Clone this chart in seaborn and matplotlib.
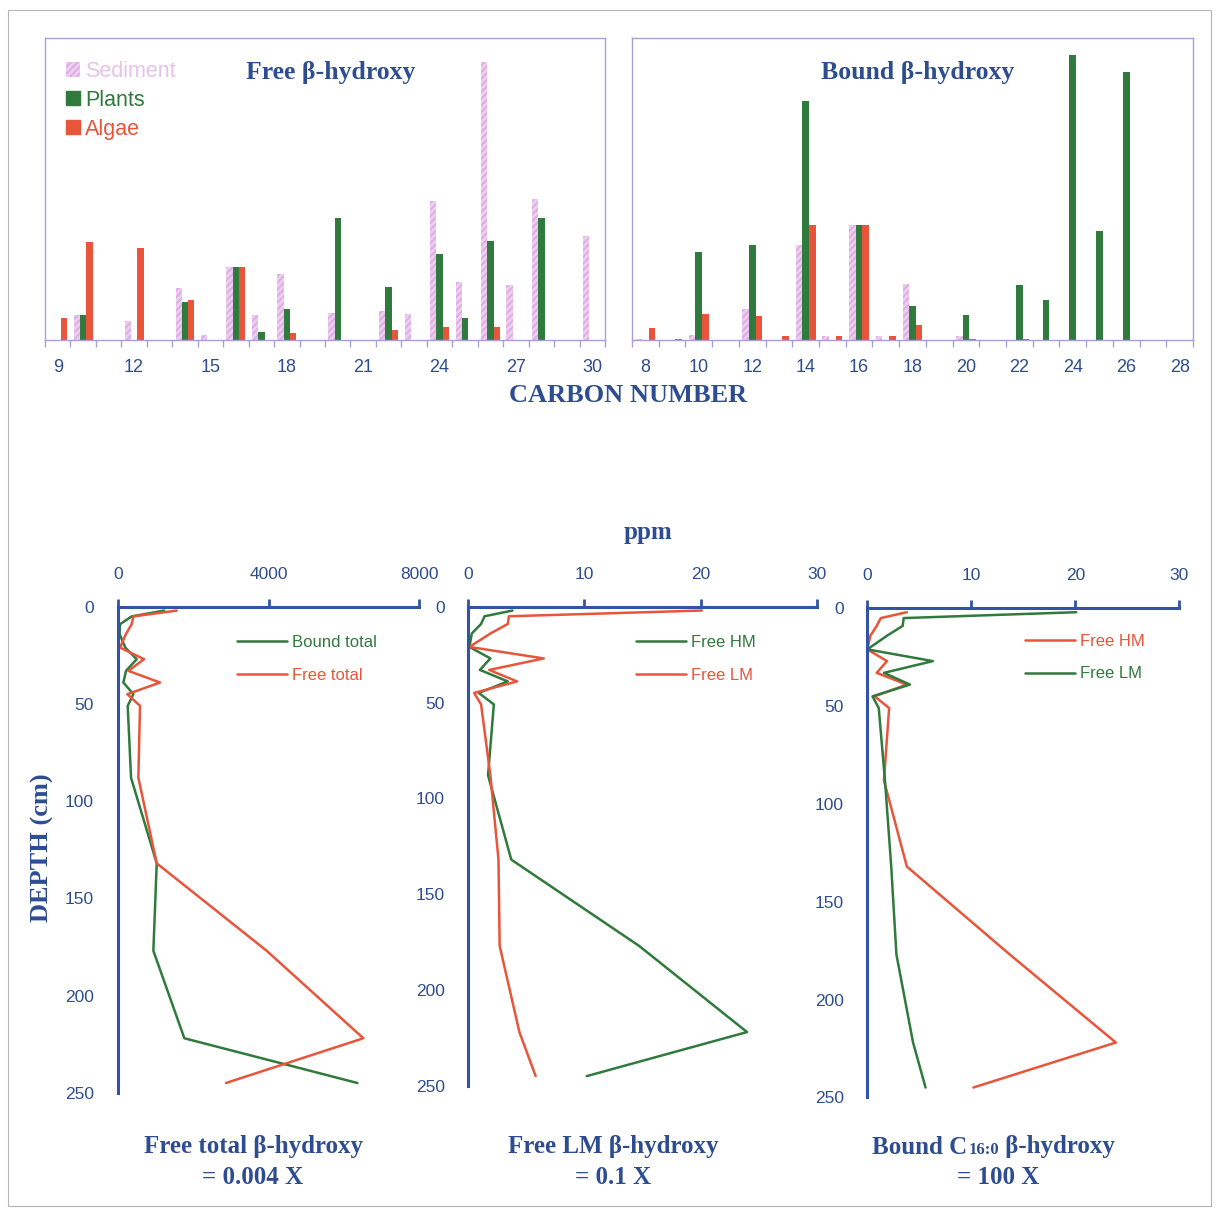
import numpy as np
import pandas as pd
import matplotlib
matplotlib.use("Agg")
import matplotlib.pyplot as plt
import matplotlib.patches as mpatches
import seaborn as sns

# bar heights (relative units, axes top = 100)
free_carbon = list(range(9, 31))
free_sediment = [0, 8.4, 0, 6.4, 0, 17.2, 1.8, 24.3, 8.4, 22.0, 0, 9.1, 0, 9.6, 8.7, 46.1, 19.2, 92.2, 18.3, 46.6, 0, 34.6]
free_plants = [0, 8.4, 0, 0, 0, 12.7, 0, 24.3, 2.8, 10.2, 0, 40.5, 0, 17.4, 0, 28.5, 7.3, 32.8, 0, 40.3, 0, 0]
free_algae = [7.3, 32.4, 0, 30.5, 0, 13.3, 0, 24.3, 0, 2.2, 0, 0, 0, 3.3, 0, 4.4, 0, 4.4, 0, 0, 0, 0]

bound_carbon = list(range(8, 29))
bound_sediment = [0.3, 0, 1.8, 0, 10.2, 0, 31.3, 1.4, 38.0, 1.4, 18.4, 0, 1.4, 0, 0, 0, 0, 0, 0, 0, 0]
bound_plants = [0, 0, 29.2, 0, 31.6, 0, 79.0, 0, 38.0, 0, 11.1, 0, 8.4, 0, 18.1, 13.4, 94.5, 36.1, 88.6, 0, 0]
bound_algae = [3.9, 0.3, 8.5, 0, 7.8, 1.3, 38.0, 1.4, 38.0, 1.4, 5.1, 0, 0.3, 0, 0.3, 0, 0, 0, 0, 0, 0]

# depth profiles
depth = [2, 5, 9, 14, 21, 27, 33, 39, 45, 51, 88, 132, 177, 222, 245]
bound_total = [1229, 371, 62, 50, 200, 504, 221, 150, 416, 265, 354, 1035, 946, 1768, 6357]
free_total = [1565, 416, 371, 220, 62, 699, 283, 1123, 256, 592, 548, 1035, 3952, 6516, 2873]
p2_free_hm = [3.8, 1.4, 1.1, 0.3, 0.1, 1.9, 1.0, 3.4, 0.9, 2.2, 1.7, 3.7, 14.7, 24.0, 10.2]
p2_free_lm = [20.1, 3.5, 3.4, 1.9, 0.1, 6.5, 1.8, 4.2, 0.5, 1.1, 1.9, 2.6, 2.7, 4.4, 5.8]
p3_free_hm = [3.8, 1.3, 0.9, 0.3, 0.0, 1.9, 0.9, 3.8, 0.7, 2.1, 1.6, 3.8, 13.7, 23.9, 10.2]
p3_free_lm = [20.1, 3.5, 3.4, 1.9, 0.0, 6.3, 1.6, 4.1, 0.5, 1.1, 1.7, 2.3, 2.8, 4.4, 5.6]

sources = ["Sediment", "Plants", "Algae"]

sns.set_theme(style="white")
plt.rcParams["font.family"] = ["Liberation Sans", "DejaVu Sans"]
plt.rcParams["hatch.linewidth"] = 1.4

BLUE = "#2e4d91"
AXBLUE = "#3253a6"
FRAME = "#a99fd6"
GREEN = "#2f7a3c"
RED = "#e8553a"
PINK = "#efcdf0"
PINK_HATCH = "#dcaee2"
SERIF = ["Liberation Serif", "DejaVu Serif"]

W, H = 1219, 1211
fig = plt.figure(figsize=(W / 100, H / 100), dpi=100)


def px_rect(x0, y0, x1, y1):
    return [x0 / W, 1 - y1 / H, (x1 - x0) / W, (y1 - y0) / H]


def bar_panel(rect, carbon, sed, plants, algae, title, step):
    ax = fig.add_axes(rect)
    n = len(carbon)
    df = pd.DataFrame({
        "carbon": carbon * 3,
        "value": sed + plants + algae,
        "source": [s for s in sources for _ in range(n)],
    })
    sns.barplot(data=df, x="carbon", y="value", hue="source", order=carbon,
                hue_order=sources, palette=[PINK, GREEN, RED], width=0.74,
                saturation=1, linewidth=0, legend=False, ax=ax)
    for bar in ax.containers[0]:
        bar.set_hatch("/////")
        bar.set_edgecolor(PINK_HATCH)
        bar.set_linewidth(0)
    ax.set_xlim(-0.5, n - 0.5)
    ax.set_ylim(0, 100)
    ax.set_xlabel("")
    ax.set_ylabel("")
    ax.set_yticks([])
    ax.set_xticks(range(0, n, step))
    ax.set_xticklabels([str(c) for c in carbon[::step]])
    ax.set_xticks(np.arange(-0.5, n, 1), minor=True)
    ax.tick_params(axis="x", which="major", length=0, pad=14, labelsize=13, labelcolor=BLUE)
    ax.tick_params(axis="x", which="minor", length=5, width=1, color=FRAME, direction="out", bottom=True)
    for sp in ax.spines.values():
        sp.set_color(FRAME)
        sp.set_linewidth(1)
    ax.text(0.51, 0.885, title, transform=ax.transAxes, ha="center", va="center",
            family=SERIF, fontweight="bold", fontsize=18.5, color=BLUE)
    return ax


ax1 = bar_panel(px_rect(45, 38, 605, 340), free_carbon, free_sediment, free_plants,
                free_algae, "Free β-hydroxy", 3)
ax2 = bar_panel(px_rect(632, 38, 1193, 340), bound_carbon, bound_sediment, bound_plants,
                bound_algae, "Bound β-hydroxy", 2)

handles = [mpatches.Patch(facecolor=PINK, edgecolor=PINK_HATCH, hatch="/////", linewidth=0),
           mpatches.Patch(color=GREEN), mpatches.Patch(color=RED)]
ax1.legend(handles, sources, loc="upper left", bbox_to_anchor=(66 / W, 1 - 61 / H),
           bbox_transform=fig.transFigure, frameon=False, fontsize=15.5, borderpad=0,
           borderaxespad=0, handlelength=0.65, handleheight=0.65, handletextpad=0.25,
           labelspacing=0.36, labelcolor=["#e6c2ea", GREEN, RED])

fig.text(628 / W, 1 - 396 / H, "CARBON NUMBER", ha="center", va="center",
         family=SERIF, fontweight="bold", fontsize=19, color=BLUE)


def depth_panel(rect, xmax, xticks, series, leg_xy):
    ax = fig.add_axes(rect)
    for name, vals, color in series:
        sns.lineplot(x=vals, y=depth, orient="y", sort=False, estimator=None,
                     color=color, linewidth=1.8, label=name, ax=ax)
    ax.set_xlim(0, xmax)
    ax.set_ylim(250, 0)
    ax.set_xlabel("")
    ax.set_ylabel("")
    ax.xaxis.tick_top()
    ax.set_xticks(xticks)
    ax.set_yticks(range(0, 251, 50))
    for side in ["right", "bottom"]:
        ax.spines[side].set_visible(False)
    for side in ["top", "left"]:
        ax.spines[side].set_color(AXBLUE)
        ax.spines[side].set_linewidth(2.2)
    ax.tick_params(axis="both", direction="out", length=6, width=2, color=AXBLUE,
                   labelcolor=BLUE, labelsize=12.5)
    ax.tick_params(axis="x", pad=12)
    ax.tick_params(axis="y", pad=11)
    ax.legend(loc="upper left", bbox_to_anchor=(leg_xy[0] / W, 1 - leg_xy[1] / H),
              bbox_transform=fig.transFigure, frameon=False, fontsize=12, borderpad=0,
              borderaxespad=0, handlelength=3.0, handletextpad=0.3, labelspacing=1.05,
              labelcolor="linecolor")
    return ax


depth_panel(px_rect(117.7, 606.7, 419.3, 1092.7), 8000, [0, 4000, 8000],
            [("Bound total", bound_total, GREEN), ("Free total", free_total, RED)], (237, 635))
depth_panel(px_rect(468.3, 606.7, 816.7, 1085.7), 30, [0, 10, 20, 30],
            [("Free HM", p2_free_hm, GREEN), ("Free LM", p2_free_lm, RED)], (636, 635))
ax6 = depth_panel(px_rect(867.3, 608.3, 1179.3, 1097.3), 30, [0, 10, 20, 30],
                  [("Free HM", p3_free_hm, RED), ("Free LM", p3_free_lm, GREEN)], (1025, 634))

fig.text(648 / W, 1 - 533 / H, "ppm", ha="center", va="center",
         family=SERIF, fontweight="bold", fontsize=18, color=BLUE)
fig.text(42 / W, 1 - 848 / H, "DEPTH (cm)", ha="center", va="center", rotation=90,
         family=SERIF, fontweight="bold", fontsize=19, color=BLUE)

label_kw = dict(family=SERIF, fontweight="bold", fontsize=18, color=BLUE)
for x, line1, line2 in [(253, "Free total β-hydroxy", "= 0.004 X"),
                        (613, "Free LM β-hydroxy", "= 0.1 X")]:
    fig.text(x / W, 1 - 1147 / H, line1, ha="center", va="center", **label_kw)
    fig.text(x / W, 1 - 1178 / H, line2, ha="center", va="center", **label_kw)

# third label has a subscript C16:0, built from three pieces
t1 = fig.text(872 / W, 1 - 1147 / H, "Bound C", ha="left", va="center", **label_kw)
t2 = ax6.annotate("16:0", xy=(1, 0), xycoords=t1, xytext=(1, 0), textcoords="offset points",
                  ha="left", va="bottom", annotation_clip=False,
                  family=SERIF, fontweight="bold", fontsize=12, color=BLUE)
ax6.annotate(" β-hydroxy", xy=(1, 0.5), xycoords=(t2, t1), ha="left", va="center",
             annotation_clip=False, **label_kw)
fig.text(998 / W, 1 - 1178 / H, "= 100 X", ha="center", va="center", **label_kw)

fig.patches.append(mpatches.Rectangle((8 / W, 1 - 1206 / H), 1203 / W, 1196 / H,
                                      transform=fig.transFigure, fill=False,
                                      edgecolor="#b5b5b5", linewidth=0.8))

fig.savefig("out.png", dpi=100)
